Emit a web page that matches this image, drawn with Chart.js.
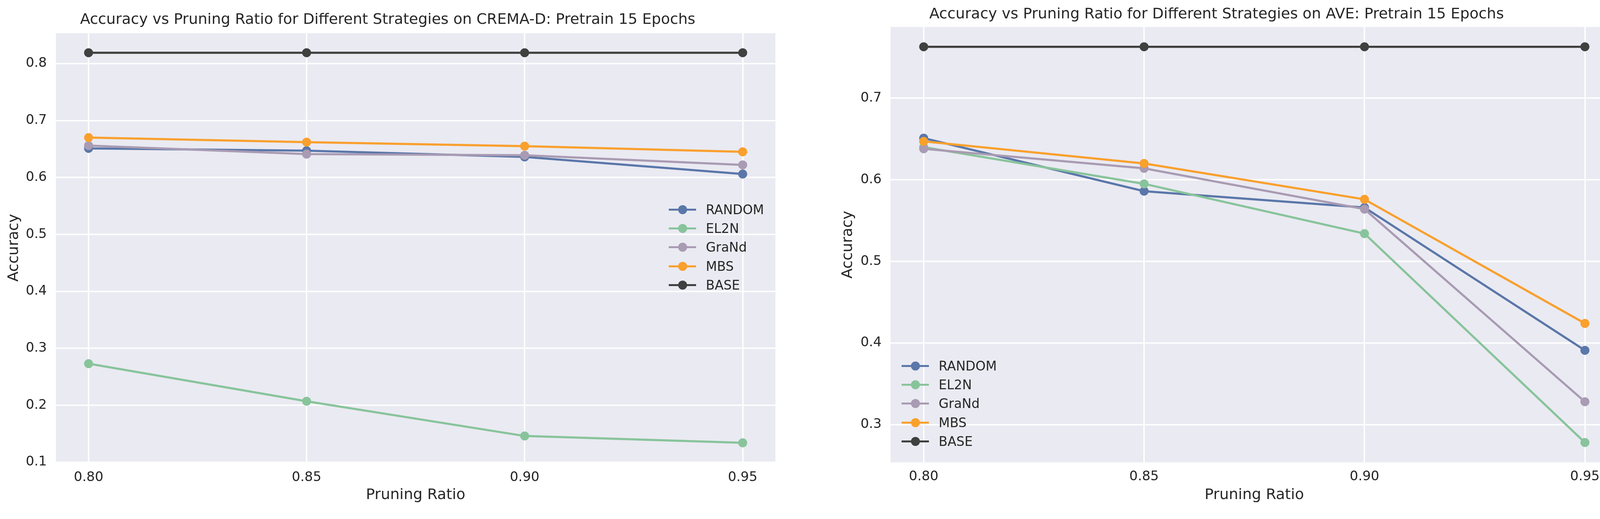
<!DOCTYPE html>
<html>
<head>
<meta charset="utf-8">
<script src="https://cdn.jsdelivr.net/npm/chart.js@4.4.1/dist/chart.umd.min.js"></script>
<style>
    html, body { margin: 0; padding: 0; background: #fff; width: 4174px; height: 1328px; overflow: hidden; }
    .panel { position: absolute; top: 0; height: 1328px; }
    .legend { position: absolute; font-family: 'DejaVu Sans', sans-serif; font-size: 33px; color: #262626; }
    .legend-row { height: 48.3px; display: flex; align-items: center; white-space: nowrap; }
    .swatch { position: relative; width: 70px; height: 23px; margin-right: 25px; flex: none; }
    .swatch i { position: absolute; left: 0; top: 9px; width: 70px; height: 5px; }
    .swatch b { position: absolute; left: 23.5px; top: 0; width: 23px; height: 23px; border-radius: 50%; }
</style>
</head>
<body>
<div class="panel" style="left:0; width:2128px;"><canvas id="cremaChart"></canvas></div>
<div class="panel" style="left:2087px; width:2248px;"><canvas id="aveChart"></canvas></div>
<div class="legend" id="cremaLegend" style="left:1712px; top:512px;"></div>
<div class="legend" id="aveLegend" style="left:2308px; top:912px;"></div>

<script>
const ratios = [0.80, 0.85, 0.90, 0.95];
const strategies = ['RANDOM', 'EL2N', 'GraNd', 'MBS', 'BASE'];
const colors = ['#5a77a9', '#88c49b', '#a99bb3', '#f9a02d', '#404040'];

// CREMA-D, pretrain 15 epochs
const cremaRandom = [0.651, 0.647, 0.636, 0.606];
const cremaEl2n   = [0.273, 0.207, 0.146, 0.134];
const cremaGrand  = [0.656, 0.641, 0.639, 0.622];
const cremaMbs    = [0.670, 0.662, 0.655, 0.645];
const cremaBase   = [0.819, 0.819, 0.819, 0.819];
const cremaTicks  = [0.1, 0.2, 0.3, 0.4, 0.5, 0.6, 0.7, 0.8];

// AVE, pretrain 15 epochs
const aveRandom = [0.651, 0.586, 0.566, 0.391];
const aveEl2n   = [0.640, 0.595, 0.534, 0.278];
const aveGrand  = [0.638, 0.614, 0.564, 0.328];
const aveMbs    = [0.647, 0.620, 0.576, 0.424];
const aveBase   = [0.763, 0.763, 0.763, 0.763];
const aveTicks  = [0.3, 0.4, 0.5, 0.6, 0.7];

const FONT = "'DejaVu Sans', sans-serif";
const TEXT = '#262626';

const plotBackground = {
    id: 'plotBackground',
    beforeDraw(chart) {
        const { ctx, chartArea: a } = chart;
        ctx.save();
        ctx.fillStyle = '#eaeaf2';
        ctx.fillRect(a.left, a.top, a.right - a.left, a.bottom - a.top);
        ctx.restore();
    }
};

// matplotlib-style 5% margins
const padded = (values) => {
    const lo = Math.min(...values), hi = Math.max(...values);
    const m = (hi - lo) * 0.05;
    return [lo - m, hi + m];
};

function makeChart(canvasId, series, yTicks, opts) {
    const [xMin, xMax] = padded(ratios);
    const [yMin, yMax] = padded(series.flat());

    return new Chart(document.getElementById(canvasId), {
        type: 'line',
        data: {
            datasets: series.map((vals, i) => ({
                label: strategies[i],
                data: ratios.map((r, j) => ({ x: r, y: vals[j] })),
                borderColor: colors[i],
                backgroundColor: colors[i],
                borderWidth: 5.5,
                pointRadius: 11.5,
                pointHoverRadius: 11.5,
                pointBorderWidth: 0,
                tension: 0,
                order: series.length - i
            }))
        },
        options: {
            responsive: true,
            maintainAspectRatio: false,
            animation: false,
            layout: { padding: { left: 0, right: opts.rightPad, top: 0, bottom: 0 } },
            plugins: {
                legend: { display: false },
                tooltip: { enabled: false },
                title: {
                    display: true,
                    text: opts.title,
                    color: TEXT,
                    font: { family: FONT, size: 38, weight: 'normal' },
                    padding: { top: opts.titleTop, bottom: opts.titleBottom }
                }
            },
            scales: {
                x: {
                    type: 'linear',
                    min: xMin, max: xMax,
                    afterBuildTicks: s => { s.ticks = ratios.map(v => ({ value: v })); },
                    afterFit: s => { s.height = 145; },
                    grid: { color: '#ffffff', lineWidth: 3.5, drawTicks: false },
                    border: { display: false },
                    ticks: {
                        color: TEXT, padding: opts.xTickPad,
                        font: { family: FONT, size: 34 },
                        callback: v => v.toFixed(2)
                    },
                    title: {
                        display: true, text: 'Pruning Ratio', color: TEXT,
                        font: { family: FONT, size: 38 },
                        padding: { top: 38, bottom: 38 }
                    }
                },
                y: {
                    min: yMin, max: yMax,
                    afterBuildTicks: s => { s.ticks = yTicks.map(v => ({ value: v })); },
                    afterFit: s => { s.width = opts.yWidth; },
                    grid: { color: '#ffffff', lineWidth: 3.5, drawTicks: false },
                    border: { display: false },
                    ticks: {
                        color: TEXT, padding: 23,
                        font: { family: FONT, size: 34 },
                        callback: v => v.toFixed(1)
                    },
                    title: {
                        display: true, text: 'Accuracy', color: TEXT,
                        font: { family: FONT, size: 38 },
                        padding: { top: opts.yTitlePad, bottom: opts.yTitlePad }
                    }
                }
            }
        },
        plugins: [plotBackground]
    });
}

function buildLegend(chart, el) {
    chart.data.datasets.forEach(ds => {
        const row = document.createElement('div');
        row.className = 'legend-row';
        row.innerHTML = `<span class="swatch"><i style="background:${ds.borderColor}"></i><b style="background:${ds.borderColor}"></b></span><span>${ds.label}</span>`;
        el.appendChild(row);
    });
}

const cremaChart = makeChart('cremaChart',
    [cremaRandom, cremaEl2n, cremaGrand, cremaMbs, cremaBase], cremaTicks, {
        title: 'Accuracy vs Pruning Ratio for Different Strategies on CREMA-D: Pretrain 15 Epochs',
        rightPad: 143, yWidth: 143, titleTop: 28, titleBottom: 11.4,
        xTickPad: 18.6, yTitlePad: 13
    });

const aveChart = makeChart('aveChart',
    [aveRandom, aveEl2n, aveGrand, aveMbs, aveBase], aveTicks, {
        title: 'Accuracy vs Pruning Ratio for Different Strategies on AVE: Pretrain 15 Epochs',
        rightPad: 193, yWidth: 193, titleTop: 14.7, titleBottom: 8.7,
        xTickPad: 17, yTitlePad: 61
    });

buildLegend(cremaChart, document.getElementById('cremaLegend'));
buildLegend(aveChart, document.getElementById('aveLegend'));
</script>
</body>
</html>
